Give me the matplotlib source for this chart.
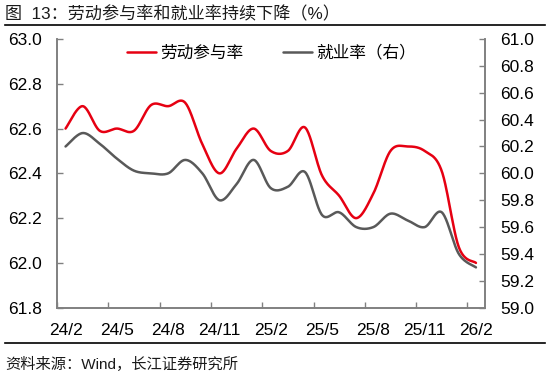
import numpy as np
import matplotlib
matplotlib.use('Agg')
import matplotlib.pyplot as plt
from matplotlib.lines import Line2D

plt.rcParams['font.family'] = ['Liberation Sans', 'Noto Sans CJK SC', 'DejaVu Sans']

# ---- data ----
months = ['24/2', '24/3', '24/4', '24/5', '24/6', '24/7', '24/8', '24/9', '24/10', '24/11', '24/12',
          '25/1', '25/2', '25/3', '25/4', '25/5', '25/6', '25/7', '25/8', '25/9', '25/10', '25/11', '25/12',
          '26/1', '26/2']
participation = [62.60, 62.70, 62.59, 62.60, 62.59, 62.705, 62.70, 62.715, 62.53, 62.40, 62.51,
                 62.60, 62.50, 62.50, 62.605, 62.39, 62.30, 62.20, 62.31, 62.50, 62.52, 62.50, 62.41,
                 62.07, 62.00]
employment = [60.20, 60.30, 60.22, 60.11, 60.02, 60.00, 60.00, 60.10, 60.00, 59.80, 59.92,
              60.10, 59.89, 59.90, 60.01, 59.69, 59.71, 59.60, 59.60, 59.70, 59.65, 59.60, 59.71,
              59.40, 59.30]
tick_labels = ['24/2', '24/5', '24/8', '24/11', '25/2', '25/5', '25/8', '25/11', '26/2']
left_ticks = [61.8, 62.0, 62.2, 62.4, 62.6, 62.8, 63.0]
right_ticks = [59.0, 59.2, 59.4, 59.6, 59.8, 60.0, 60.2, 60.4, 60.6, 60.8, 61.0]


def smooth(xs, ys, n=24):
    P = np.column_stack([xs, ys]).astype(float)
    out = [P[0]]
    m = len(P)
    for i in range(m - 1):
        p0 = P[i - 1] if i > 0 else P[i]
        p1 = P[i]
        p2 = P[i + 1]
        p3 = P[i + 2] if i + 2 < m else P[i + 1]
        c1 = p1 + (p2 - p0) / 6.0
        c2 = p2 - (p3 - p1) / 6.0
        t = np.linspace(0, 1, n + 1)[1:, None]
        seg = ((1 - t) ** 3) * p1 + 3 * ((1 - t) ** 2) * t * c1 + 3 * (1 - t) * t ** 2 * c2 + t ** 3 * p2
        out.extend(seg)
    out = np.array(out)
    return out[:, 0], out[:, 1]


W, H = 548, 373
fig = plt.figure(figsize=(W / 100, H / 100), dpi=100)
L, R, T, B = 57, 484.5, 39, 307.7
ax = fig.add_axes([L / W, 1 - B / H, (R - L) / W, (B - T) / H])
ax2 = ax.twinx()

x = np.arange(len(months))
red = '#E60012'
grey = '#595959'
sx, sy = smooth(x, participation)
l1, = ax.plot(sx, sy, color=red, lw=1.8, solid_capstyle='round', label='劳动参与率')
sx2, sy2 = smooth(x, employment)
l2, = ax2.plot(sx2, sy2, color=grey, lw=1.8, solid_capstyle='round', label='就业率（右）')

ax.set_xlim(-0.5, len(months) - 0.5)
ax.set_ylim(61.8, 63.0)
ax2.set_ylim(59.0, 61.0)
ax.set_yticks(left_ticks)
ax.set_yticklabels([f'{v:.1f}' for v in left_ticks])
ax2.set_yticks(right_ticks)
ax2.set_yticklabels([f'{v:.1f}' for v in right_ticks])

label_pos = [months.index(m) for m in tick_labels]
ax.set_xticks(label_pos)
ax.set_xticklabels(tick_labels)
ax.set_xticks(np.arange(-0.5, len(months) - 0.5, 3), minor=True)

spine_c = '#808080'
for a in (ax, ax2):
    a.spines['top'].set_visible(False)
    for s in ('left', 'right', 'bottom'):
        a.spines[s].set_color(spine_c)
        a.spines[s].set_linewidth(1.2)
ax.tick_params(axis='x', which='major', length=0, pad=11, labelsize=12.5, colors='black')
ax.tick_params(axis='x', which='minor', direction='in', length=4, width=1, color=spine_c)
ax.tick_params(axis='y', direction='in', length=4, width=1, color=spine_c, pad=11, labelsize=12.5, labelcolor='black')
ax2.tick_params(axis='y', direction='in', length=4, width=1, color=spine_c, pad=11.5, labelsize=12.5, labelcolor='black')

leg = ax.legend(handles=[l1, l2], loc='upper center', bbox_to_anchor=(0.502, 1.035), ncol=2, frameon=False,
                fontsize=12, handlelength=1.75, handletextpad=0.25, columnspacing=2.4)

fig.text(5 / W, 1 - 14.5 / H, '图  13：劳动参与率和就业率持续下降（%）', fontsize=12.3, color='#1a1a1a',
         ha='left', va='center')
fig.add_artist(Line2D([5 / W, 545 / W], [1 - 25 / H, 1 - 25 / H], color='black', lw=1.2))
fig.add_artist(Line2D([5 / W, 545 / W], [1 - 342.5 / H, 1 - 342.5 / H], color='black', lw=1.2))
fig.text(5 / W, 1 - 364 / H, '资料来源：Wind，长江证券研究所', fontsize=11, color='#1a1a1a',
         ha='left', va='center')

fig.savefig('out.png', dpi=100)
